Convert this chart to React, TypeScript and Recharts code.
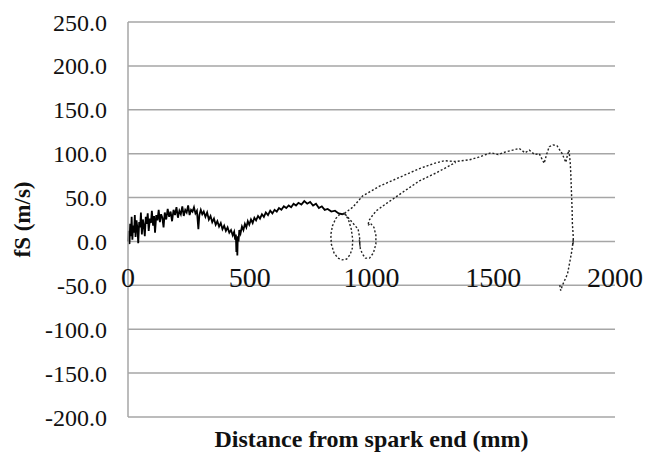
import { CartesianGrid, Line, LineChart, XAxis, YAxis } from "recharts";

// x ticks and y ticks
const xTicks = [0, 500, 1000, 1500, 2000];
const yTicks = [-200, -150, -100, -50, 0, 50, 100, 150, 200, 250];

// dense part of the trace (spark start to first crossing)
const nearTrace = [
  { x: 0, y: 0 }, { x: 3, y: 12 }, { x: 6, y: -3 }, { x: 9, y: 20 },
  { x: 12, y: 6 }, { x: 15, y: 28 }, { x: 18, y: 2 }, { x: 21, y: 18 },
  { x: 25, y: 10 }, { x: 28, y: 30 }, { x: 31, y: 5 }, { x: 35, y: 24 },
  { x: 39, y: 14 }, { x: 42, y: -2 }, { x: 46, y: 22 }, { x: 50, y: 16 },
  { x: 53, y: 33 }, { x: 57, y: 8 }, { x: 61, y: 25 }, { x: 65, y: 18 },
  { x: 69, y: 6 }, { x: 73, y: 28 }, { x: 77, y: 20 }, { x: 81, y: 32 },
  { x: 85, y: 12 }, { x: 90, y: 26 }, { x: 94, y: 21 }, { x: 98, y: 35 },
  { x: 103, y: 18 }, { x: 107, y: 29 }, { x: 111, y: 10 }, { x: 116, y: 30 },
  { x: 121, y: 24 }, { x: 126, y: 36 }, { x: 131, y: 22 }, { x: 136, y: 31 },
  { x: 141, y: 27 }, { x: 146, y: 16 }, { x: 151, y: 33 }, { x: 157, y: 25 },
  { x: 163, y: 37 }, { x: 169, y: 28 }, { x: 175, y: 34 }, { x: 181, y: 23 },
  { x: 187, y: 36 }, { x: 193, y: 30 }, { x: 199, y: 39 }, { x: 205, y: 27 },
  { x: 211, y: 35 }, { x: 217, y: 31 }, { x: 223, y: 40 }, { x: 229, y: 29 },
  { x: 235, y: 36 }, { x: 241, y: 33 }, { x: 247, y: 41 }, { x: 253, y: 30 },
  { x: 259, y: 36 }, { x: 265, y: 34 }, { x: 271, y: 39 }, { x: 277, y: 32 },
  { x: 283, y: 35 }, { x: 289, y: 14 }, { x: 293, y: 30 }, { x: 299, y: 36 },
  { x: 305, y: 31 }, { x: 311, y: 34 }, { x: 318, y: 28 }, { x: 325, y: 33 },
  { x: 332, y: 25 }, { x: 339, y: 29 }, { x: 346, y: 22 }, { x: 353, y: 26 },
  { x: 360, y: 19 }, { x: 367, y: 23 }, { x: 374, y: 17 }, { x: 381, y: 21 },
  { x: 388, y: 14 }, { x: 395, y: 18 }, { x: 402, y: 12 }, { x: 409, y: 16 },
  { x: 416, y: 10 }, { x: 423, y: 13 }, { x: 430, y: 7 }, { x: 436, y: 11 },
  { x: 440, y: 2 }, { x: 443, y: 8 }, { x: 445, y: -12 }, { x: 447, y: 4 },
  { x: 449, y: -16 }, { x: 451, y: 6 }, { x: 454, y: 0 }, { x: 457, y: 13 },
  { x: 462, y: 9 }, { x: 468, y: 17 }, { x: 474, y: 13 }, { x: 480, y: 20 },
  { x: 486, y: 16 }, { x: 492, y: 23 }, { x: 498, y: 19 }, { x: 505, y: 25 },
  { x: 512, y: 21 }, { x: 519, y: 27 }, { x: 526, y: 24 }, { x: 534, y: 29 },
  { x: 542, y: 26 }, { x: 550, y: 31 }, { x: 558, y: 28 }, { x: 566, y: 33 },
  { x: 575, y: 30 }, { x: 584, y: 35 }, { x: 593, y: 32 }, { x: 602, y: 36 },
  { x: 611, y: 34 }, { x: 620, y: 38 }, { x: 630, y: 36 }, { x: 640, y: 40 },
  { x: 650, y: 38 }, { x: 660, y: 41 }, { x: 670, y: 39 }, { x: 680, y: 43 },
  { x: 690, y: 41 }, { x: 700, y: 44 }, { x: 712, y: 42 }, { x: 724, y: 46 },
  { x: 736, y: 43 }, { x: 748, y: 45 }, { x: 760, y: 41 }, { x: 772, y: 43 },
  { x: 784, y: 38 }, { x: 796, y: 40 }, { x: 808, y: 36 }, { x: 820, y: 37 },
  { x: 835, y: 34 }, { x: 850, y: 35 }, { x: 865, y: 32 }, { x: 880, y: 31 },
  { x: 889, y: 32 },
];

// the two loops and the lower branch of the arc
const loopTrace = [
  { x: 889, y: 32 }, { x: 905, y: 25 }, { x: 917, y: 14 }, { x: 923, y: 2 },
  { x: 921, y: -8 }, { x: 912, y: -15 }, { x: 898, y: -20 }, { x: 880, y: -21 },
  { x: 862, y: -19 }, { x: 846, y: -13 }, { x: 835, y: -3 }, { x: 833, y: 8 },
  { x: 840, y: 18 }, { x: 853, y: 26 }, { x: 870, y: 31 }, { x: 889, y: 32 },
  { x: 920, y: 22 }, { x: 945, y: 14 }, { x: 951, y: 5 }, { x: 953, y: -6 },
  { x: 950, y: 2 }, { x: 954, y: -8 }, { x: 962, y: -14 }, { x: 975, y: -19 },
  { x: 992, y: -19 }, { x: 1008, y: -13 }, { x: 1018, y: -3 }, { x: 1018, y: 7 },
  { x: 1010, y: 16 }, { x: 995, y: 21 }, { x: 985, y: 18 }, { x: 990, y: 24 },
  { x: 1005, y: 30 }, { x: 1020, y: 35 }, { x: 1060, y: 43 }, { x: 1128, y: 56 },
  { x: 1197, y: 69 }, { x: 1265, y: 78 }, { x: 1332, y: 88 }, { x: 1346, y: 90 },
];

// upper branch, plateau and the drop at the far end
const farTrace = [
  { x: 889, y: 32 }, { x: 923, y: 39 }, { x: 964, y: 52 }, { x: 1033, y: 63 },
  { x: 1115, y: 73 }, { x: 1197, y: 83 }, { x: 1258, y: 89 }, { x: 1300, y: 92 },
  { x: 1346, y: 91 }, { x: 1402, y: 93 }, { x: 1440, y: 96 }, { x: 1490, y: 101 },
  { x: 1520, y: 99 }, { x: 1551, y: 102 }, { x: 1580, y: 104 }, { x: 1607, y: 106 },
  { x: 1630, y: 101 }, { x: 1648, y: 104 }, { x: 1670, y: 99 }, { x: 1689, y: 100 },
  { x: 1709, y: 89 }, { x: 1720, y: 100 }, { x: 1730, y: 108 }, { x: 1745, y: 110 },
  { x: 1762, y: 109 }, { x: 1783, y: 100 }, { x: 1798, y: 90 }, { x: 1805, y: 99 },
  { x: 1811, y: 104 }, { x: 1816, y: 90 }, { x: 1818, y: 80 }, { x: 1820, y: 65 },
  { x: 1822, y: 50 }, { x: 1824, y: 35 }, { x: 1825, y: 20 }, { x: 1828, y: 8 },
  { x: 1829, y: 0 }, { x: 1826, y: -5 }, { x: 1829, y: 3 }, { x: 1822, y: -12 },
  { x: 1818, y: -18 }, { x: 1805, y: -37 }, { x: 1784, y: -50 }, { x: 1777, y: -56 },
  { x: 1772, y: -48 },
];

const FONT = '"Liberation Serif", "Times New Roman", serif';

function XTick(props: any) {
  const { x, y, payload } = props;
  return (
    <text
      x={x}
      y={y}
      dy={-138}
      textAnchor="middle"
      fontSize={28}
      style={{ fontFamily: FONT }}
      fill="#111"
    >
      {payload.value}
    </text>
  );
}

export default function App() {
  return (
    <div
      style={{
        position: "absolute",
        left: 0,
        top: 0,
        width: 647,
        height: 452,
        background: "#fff",
        fontFamily: FONT,
      }}
    >
      <LineChart
        width={647}
        height={452}
        margin={{ top: 22, right: 32, left: 0, bottom: 0 }}
        style={{ fontFamily: FONT }}
      >
        <CartesianGrid vertical={false} stroke="#a6a6a6" strokeWidth={1.5} />

        <XAxis
          type="number"
          dataKey="x"
          domain={[0, 2000]}
          ticks={xTicks}
          height={35}
          axisLine={false}
          tickLine={false}
          tick={<XTick />}
          interval={0}
          label={{
            value: "Distance from spark end (mm)",
            position: "insideBottom",
            offset: 5,
            fontSize: 24,
            fontWeight: "bold",
            style: { fontFamily: FONT },
            fill: "#111",
          }}
        />

        <YAxis
          type="number"
          dataKey="y"
          domain={[-200, 250]}
          ticks={yTicks}
          width={128}
          interval={0}
          axisLine={{ stroke: "#a6a6a6", strokeWidth: 1.5 }}
          tickLine={false}
          tickMargin={15}
          tickFormatter={(v: number) => v.toFixed(1)}
          tick={{ fill: "#111", fontSize: 24, style: { fontFamily: FONT } }}
          label={{
            value: "fS (m/s)",
            angle: -90,
            position: "insideLeft",
            offset: 22,
            textAnchor: "middle",
            fontSize: 23,
            fontWeight: "bold",
            style: { fontFamily: FONT },
            fill: "#111",
          }}
        />

        <Line
          data={nearTrace}
          dataKey="y"
          stroke="#000"
          strokeWidth={1.8}
          dot={false}
          isAnimationActive={false}
        />

        <Line
          data={loopTrace}
          dataKey="y"
          stroke="#222"
          strokeWidth={1.4}
          strokeDasharray="2 2"
          dot={false}
          isAnimationActive={false}
        />

        <Line
          data={farTrace}
          dataKey="y"
          stroke="#222"
          strokeWidth={1.4}
          strokeDasharray="2 2"
          dot={false}
          isAnimationActive={false}
        />
      </LineChart>
    </div>
  );
}
